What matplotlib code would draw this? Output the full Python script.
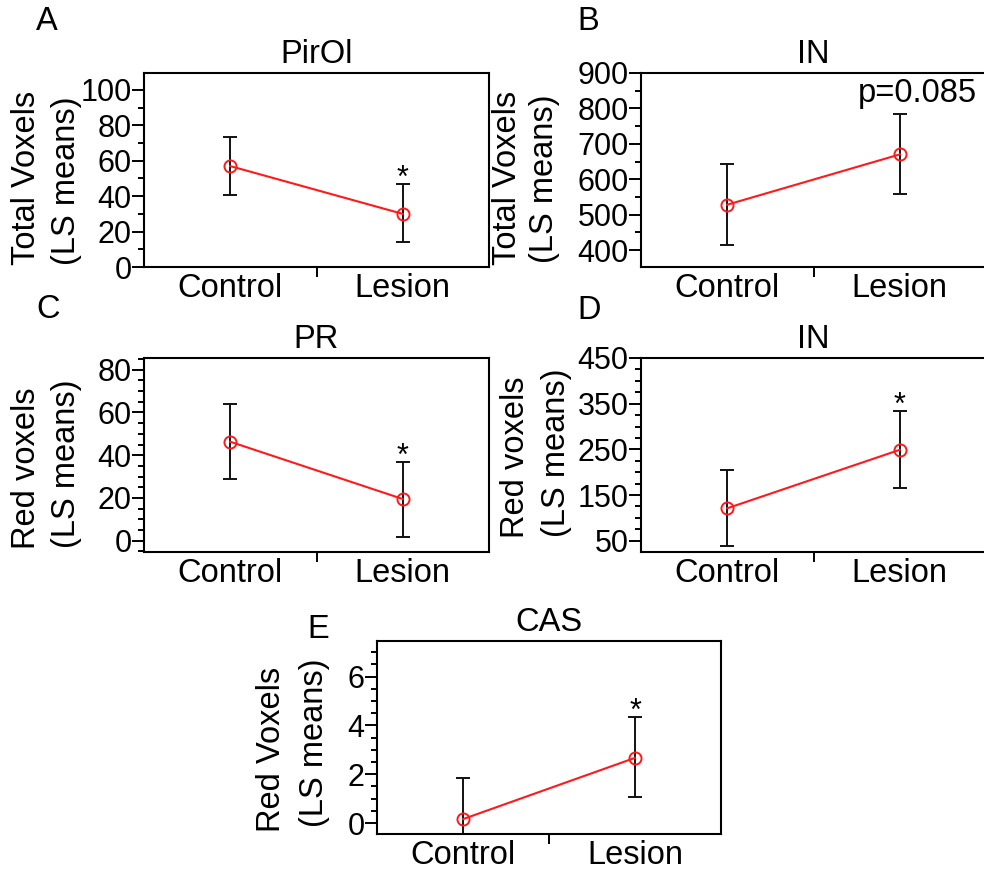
import matplotlib
matplotlib.use("Agg")
import matplotlib.pyplot as plt
from matplotlib.ticker import MultipleLocator, FixedLocator

plt.rcParams['font.family'] = ['Liberation Sans', 'DejaVu Sans']

categories = ["Control", "Lesion"]

# Panel A: PirOl
a_means = [57.0, 30.0]
a_lower = [40.7, 14.0]
a_upper = [73.4, 46.7]
# Panel B: IN total
b_means = [528, 670]
b_lower = [413, 557]
b_upper = [642, 783]
# Panel C: PR
c_means = [46.3, 19.5]
c_lower = [28.9, 1.7]
c_upper = [64.1, 36.8]
# Panel D: IN red
d_means = [121, 249]
d_lower = [38, 166]
d_upper = [205, 333]
# Panel E: CAS
e_means = [0.16, 2.67]
e_lower = [-1.53, 1.05]
e_upper = [1.85, 4.35]

panels = [
    dict(letter="A", title="PirOl", ylab=("Total Voxels", "(LS means)"), means=a_means, lower=a_lower, upper=a_upper,
         pos=[144, 73, 345, 194], ylim=(0, 109.6), major=20, minor=10, star=True, ptext=None,
         lab=((27, 178), (67, 181)), letter_xy=(47, 22)),
    dict(letter="B", title="IN", ylab=("Total Voxels", "(LS means)"), means=b_means, lower=b_lower, upper=b_upper,
         pos=[641, 73, 345, 194], ylim=(352, 900), major=100, minor=50, star=False, ptext="p=0.085",
         lab=((508, 178), (545, 179)), letter_xy=(588, 22)),
    dict(letter="C", title="PR", ylab=("Red voxels", "(LS means)"), means=c_means, lower=c_lower, upper=c_upper,
         pos=[144, 358, 345, 194], ylim=(-5.3, 85.5), major=20, minor=5, star=True, ptext=None,
         lab=((27, 468), (67, 464)), letter_xy=(48, 309)),
    dict(letter="D", title="IN", ylab=("Red voxels", "(LS means)"), means=d_means, lower=d_lower, upper=d_upper,
         pos=[641, 358, 345, 194], ylim=(25.3, 450), major=100, minor=25, star=True, ptext=None,
         lab=((515, 457), (557, 453)), letter_xy=(589, 310), yticks=[50, 150, 250, 350, 450]),
    dict(letter="E", title="CAS", ylab=("Red Voxels", "(LS means)"), means=e_means, lower=e_lower, upper=e_upper,
         pos=[377, 641, 344, 193], ylim=(-0.45, 7.46), major=2, minor=0.5, star=True, ptext=None,
         lab=((272, 749), (315, 743)), letter_xy=(318, 630)),
]

W, H = 984, 874
fig = plt.figure(figsize=(W / 100, H / 100), dpi=100)

FS = 23.5
TFS = 22
x = [0, 1]
for p in panels:
    l, t, w, h = p["pos"]
    ax = fig.add_axes([l / W, 1 - (t + h) / H, w / W, h / H])
    m = p["means"]
    yerr = [[mi - lo for mi, lo in zip(m, p["lower"])], [up - mi for mi, up in zip(m, p["upper"])]]
    ax.errorbar(x, m, yerr=yerr, fmt="none", ecolor="#111111", elinewidth=1.4, capsize=4.7, capthick=1.4, zorder=2)
    ax.plot(x, m, color="#ff1a1a", lw=1.5, marker="o", ms=8.7, mfc="none", mec="#ff1a1a", mew=1.4, zorder=3)
    ax.set_xlim(-0.5, 1.5)
    ax.set_ylim(*p["ylim"])
    ax.set_xticks(x)
    ax.set_xticklabels(categories, fontsize=FS)
    ax.xaxis.set_minor_locator(FixedLocator([0.5]))
    ax.tick_params(axis="x", which="major", length=0, pad=4)
    ax.tick_params(axis="x", which="minor", length=7, width=1.4, direction="out")
    if "yticks" in p:
        ax.set_yticks(p["yticks"])
    else:
        ax.yaxis.set_major_locator(MultipleLocator(p["major"]))
    ax.yaxis.set_minor_locator(MultipleLocator(p["minor"]))
    ax.tick_params(axis="y", which="major", length=8.5, width=1.4, labelsize=TFS, pad=0.5)
    ax.tick_params(axis="y", which="minor", length=4.5, width=1.4)
    for s in ax.spines.values():
        s.set_linewidth(1.5)
    ax.set_title(p["title"], fontsize=FS, pad=7)
    if p["star"]:
        ax.annotate("*", xy=(1, p["upper"][1]), xytext=(0, -7), textcoords="offset points",
                    ha="center", va="bottom", fontsize=22)
    if p["ptext"]:
        ax.text(0.80, 0.895, p["ptext"], transform=ax.transAxes, ha="center", va="center", fontsize=FS)
    for txt, (lx, ly) in zip(p["ylab"], p["lab"]):
        fig.text(lx / W, 1 - ly / H, txt, rotation=90, ha="center", va="center", fontsize=FS)
    bx, by = p["letter_xy"]
    fig.text(bx / W, 1 - by / H, p["letter"], ha="center", va="center", fontsize=FS)

fig.savefig("out.png", dpi=100)
